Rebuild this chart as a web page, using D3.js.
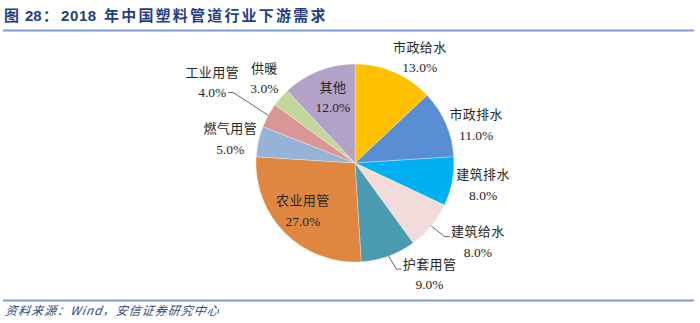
<!DOCTYPE html>
<html><head><meta charset="utf-8">
<script src="https://cdn.jsdelivr.net/npm/d3@7/dist/d3.min.js"></script>
<style>
html,body{margin:0;padding:0;background:#fff;}
svg{display:block;}
</style></head>
<body>
<svg id="chart" width="700" height="323"></svg>
<script>
// ---- data ----
const categories = ["市政给水","市政排水","建筑排水","建筑给水","护套用管","农业用管","燃气用管","工业用管","供暖","其他"];
const values = [13.0, 11.0, 8.0, 8.0, 9.0, 27.0, 5.0, 4.0, 3.0, 12.0];
const colors = ["#FFC000","#5A8ED3","#00B0F0","#F2DCDB","#4A9BB0","#DF8640","#95B3D7","#D99694","#C3D69B","#B3A2C7"];
const sourceText = "资料来源：Wind，安信证券研究中心";

// label placement (distance from centre in px, angle shift in degrees, leader style)
const labelDist  = [124, 127, 130, 146, 134, 71, 127, 164, 124, 69];
const labelShift = [8.1, 6, -1, -6.9, -14, 2.3, -1.7, 0.7, 1.6, 2.9];
const leaderSide = [null, null, null, "left", "left", null, null, "right", null, null];

const svg = d3.select("#chart");
const cx = 355, cy = 163, R = 99;

// title
const title = svg.append("text").attr("y", 21)
  .attr("font-family", "'Noto Sans CJK SC', sans-serif")
  .attr("font-weight", "bold").attr("font-size", 15).attr("fill", "#1F3F88");
title.append("tspan").attr("x", 4).text("图");
title.append("tspan").attr("x", 25).attr("font-family","'Liberation Sans', Arial, sans-serif").text("28");
title.append("tspan").attr("x", 43).text("：");
title.append("tspan").attr("x", 61).attr("font-family","'Liberation Sans', Arial, sans-serif").attr("letter-spacing", 0.6).text("2018");
title.append("tspan").attr("x", 104).attr("letter-spacing", 2.2).text("年中国塑料管道行业下游需求");

svg.append("line").attr("x1", 3).attr("x2", 694).attr("y1", 30.5).attr("y2", 30.5)
  .attr("stroke", "#7F9BD1").attr("stroke-width", 2);
svg.append("line").attr("x1", 3).attr("x2", 694).attr("y1", 300.5).attr("y2", 300.5)
  .attr("stroke", "#7F9BD1").attr("stroke-width", 2);

// source
svg.append("text").attr("x", 5).attr("y", 315)
  .attr("font-family", "'Noto Sans CJK SC', sans-serif").attr("font-style", "italic")
  .attr("font-size", 12).attr("letter-spacing", 1).attr("fill", "#2F4A80")
  .attr("transform", "skewX(-8) translate(44,0)")
  .text(sourceText);

// pie
const data = categories.map((c, i) => ({cat: c, value: values[i], i}));
const pie = d3.pie().value(d => d.value).sort(null).startAngle(0).endAngle(2 * Math.PI);
const arcs = pie(data);
const arc = d3.arc().innerRadius(0).outerRadius(R);
const color = d3.scaleOrdinal().domain(categories).range(colors);

const g = svg.append("g").attr("transform", `translate(${cx},${cy})`);
g.selectAll("path.slice").data(arcs).enter().append("path")
  .attr("class", "slice").attr("d", arc)
  .attr("fill", d => color(d.data.cat))
  .attr("stroke", "#fff").attr("stroke-width", 0.3);

const fmt = d3.format(".1f");
const lineGap = 20.5;

arcs.forEach((a, i) => {
  const mid = (a.startAngle + a.endAngle) / 2 + labelShift[i] * Math.PI / 180;
  const lx = Math.sin(mid) * labelDist[i];
  const ly = -Math.cos(mid) * labelDist[i];
  const t = g.append("text").attr("text-anchor", "middle").attr("fill", "#262626");
  t.append("tspan").attr("x", lx).attr("y", ly - lineGap / 2 + 4.5)
    .attr("font-family", "'Noto Sans CJK SC', sans-serif").attr("font-size", 13)
    .attr("letter-spacing", 0.4)
    .text(a.data.cat);
  t.append("tspan").attr("x", lx).attr("y", ly + lineGap / 2 + 4.5)
    .attr("font-family", "'Liberation Serif', 'Times New Roman', serif").attr("font-size", 13.5)
    .text(fmt(a.data.value) + "%");

  if (leaderSide[i]) {
    const am = (a.startAngle + a.endAngle) / 2;
    const sx = Math.sin(am) * R, sy = -Math.cos(am) * R;
    let pts;
    if (leaderSide[i] === "left") {
      const ex = lx - 28, ey = ly - lineGap / 2 + 5;
      pts = [[sx, sy], [ex - 5, ey], [ex, ey]];
    } else {
      const ex = lx + 16, ey = ly + lineGap / 2;
      pts = [[sx, sy], [ex + 5, ey], [ex, ey]];
    }
    g.append("path").attr("d", d3.line()(pts))
      .attr("fill", "none").attr("stroke", "#555").attr("stroke-width", 0.9);
  }
});
</script>
</body></html>
